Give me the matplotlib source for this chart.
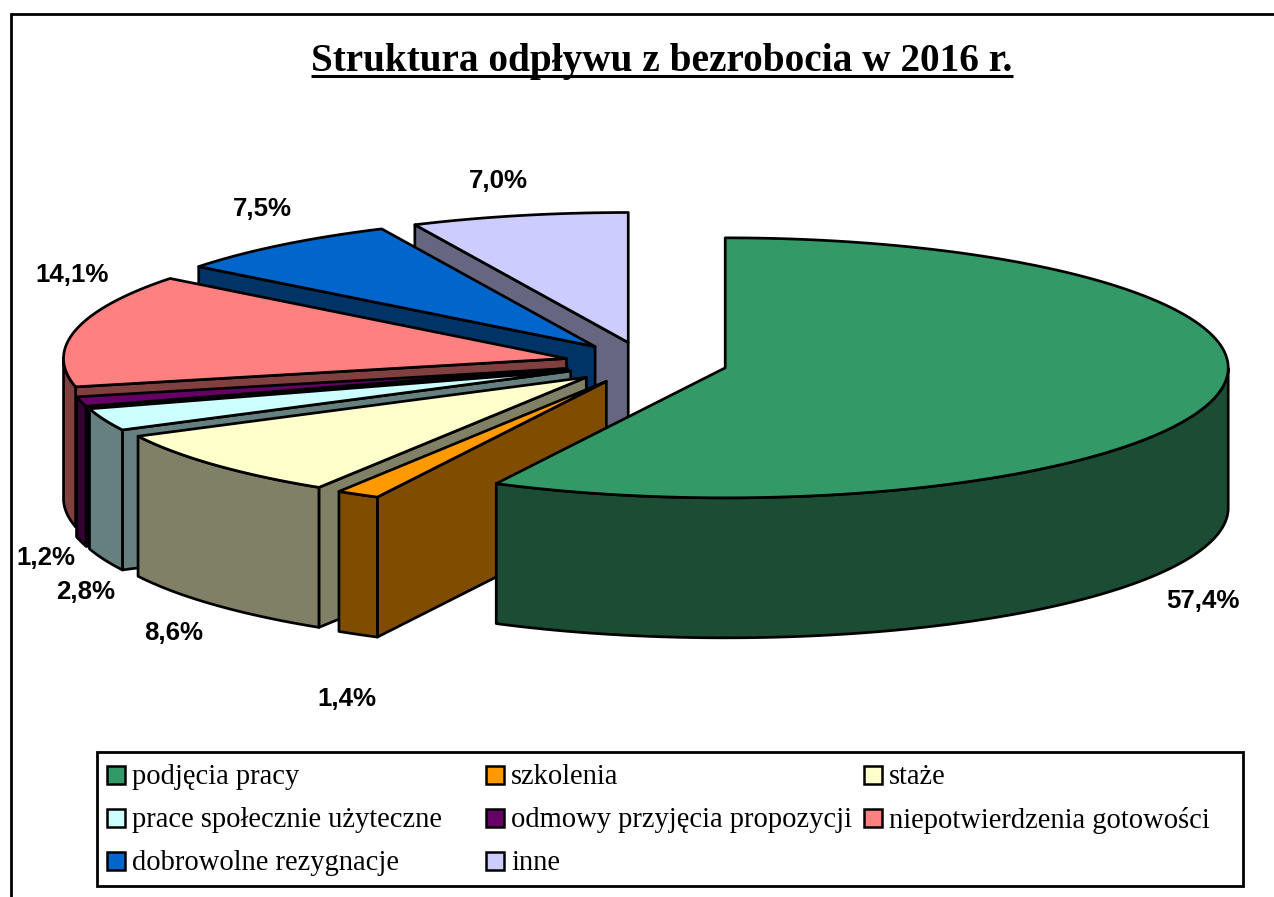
import numpy as np
import matplotlib
matplotlib.use("Agg")
import matplotlib.pyplot as plt
from matplotlib.patches import Polygon, Rectangle

categories = ["podjęcia pracy", "szkolenia", "staże",
              "prace społecznie użyteczne", "odmowy przyjęcia propozycji",
              "niepotwierdzenia gotowości", "dobrowolne rezygnacje", "inne"]
values = [57.4, 1.4, 8.6, 2.8, 1.2, 14.1, 7.5, 7.0]
value_labels = ["57,4%", "1,4%", "8,6%", "2,8%", "1,2%", "14,1%", "7,5%", "7,0%"]
top_colors = ["#339966", "#FF9900", "#FFFFCC", "#CCFFFF", "#660066", "#FF8080", "#0066CC", "#CCCCFF"]
side_colors = ["#1A4D33", "#804D00", "#808066", "#668080", "#330033", "#804040", "#003366", "#666680"]
label_pos = [(1203, 601), (347, 699), (174, 633), (86, 592), (46, 558), (72, 275), (262, 209), (498, 181)]
legend_pos = [(105, 775), (484, 775), (862, 775), (105, 818), (484, 818), (862, 818), (105, 861), (484, 861)]

W, H = 1274, 897
CX, CY, RX, RY, DEPTH = 646, 363, 503, 130, 140
EX, EY = 81.4, 21.0
LW = 1.95

fig = plt.figure(figsize=(W / 100, H / 100), dpi=100)
ax = fig.add_axes([0, 0, 1, 1])
ax.set_xlim(0, W)
ax.set_ylim(H, 0)
ax.axis("off")

# frame: left and top edges run off the picture
ax.plot([11, 11, W + 5], [H + 5, 14, 14], color="black", lw=2.0, zorder=1, solid_joinstyle="miter")

edges = np.concatenate([[0], np.cumsum(values)]) * 3.6
edges[-1] = 360
z = 2


def rim(ax0, ay0, a, b):
    t = np.radians(np.linspace(a, b, max(int(abs(b - a) * 2), 2)))
    t = t + np.radians(0.45) * np.sin(t / 2)
    return ax0 + RX * np.sin(t), ay0 - RY * np.cos(t)


def add(xy, color):
    global z
    ax.add_patch(Polygon(xy, closed=True, fc=color, ec="black", lw=LW, joinstyle="round", zorder=z))
    z += 1


# painter's order: back slices first, the large front slice last
for i in list(range(len(values) - 1, 0, -1)) + [0]:
    a, b = edges[i], edges[i + 1]
    m = np.radians((a + b) / 2)
    x0 = CX + EX * np.sin(m)
    y0 = CY - EY * np.cos(m)
    # radial wall on the clockwise-start side
    rx, ry = rim(x0, y0, a, a + 0.001)
    add([(x0, y0), (rx[0], ry[0]), (rx[0], ry[0] + DEPTH), (x0, y0 + DEPTH)], side_colors[i])
    # outer wall: only the part turned towards the viewer
    lo, hi = max(a, 90), min(b, 270)
    if lo < hi:
        xs, ys = rim(x0, y0, lo, hi)
        wall = np.vstack([np.column_stack([xs, ys]), np.column_stack([xs[::-1], ys[::-1] + DEPTH])])
        add(wall, side_colors[i])
    # top
    xs, ys = rim(x0, y0, a, b)
    add(np.vstack([[(x0, y0)], np.column_stack([xs, ys])]), top_colors[i])

for lab, (x, y) in zip(value_labels, label_pos):
    ax.text(x, y, lab, family="Liberation Sans", fontweight="bold", fontsize=18.6,
            ha="center", va="center", color="black", zorder=50)

title = ax.text(662, 61, "Struktura odpływu z bezrobocia w 2016 r.", family="Liberation Serif",
                fontweight="bold", fontsize=28.25, ha="center", va="center", color="black", zorder=50)
fig.canvas.draw()
bb = title.get_window_extent()
ax.plot([bb.x0, bb.x1], [76, 76], color="black", lw=2.2, zorder=50, solid_capstyle="butt")

# legend
ax.add_patch(Rectangle((97, 752), 1146, 134, fc="white", ec="black", lw=2.0, zorder=60))
for name, col, (x, y) in zip(categories, top_colors, legend_pos):
    ax.add_patch(Rectangle((x + 2, y - 9), 18, 18, fc=col, ec="black", lw=1.8, zorder=61))
    ax.text(x + 27, y + 2, name, family="Liberation Serif", fontsize=20.55, ha="left", va="center",
            color="black", zorder=61)

fig.savefig("out.png", dpi=100, facecolor="white")
